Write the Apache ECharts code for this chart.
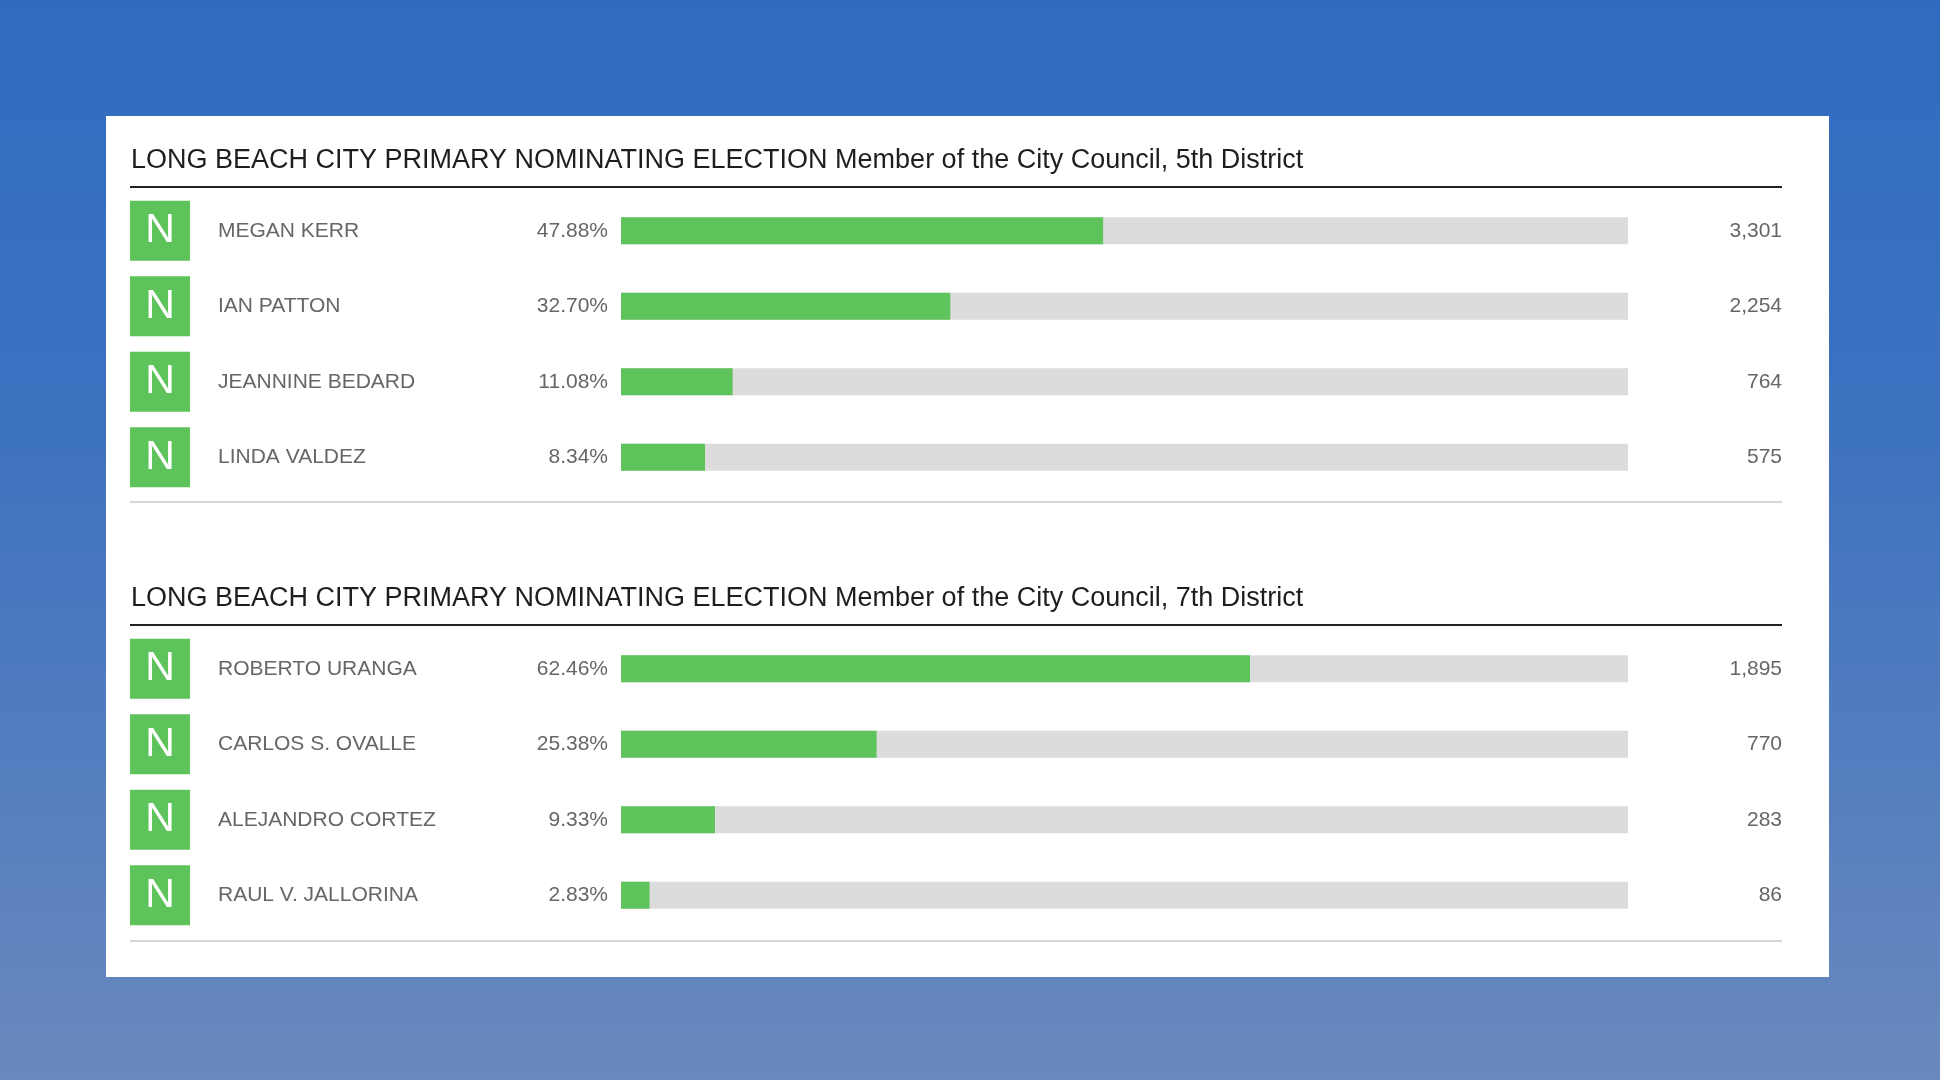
<!DOCTYPE html>
<html>
<head>
<meta charset="utf-8">
<style>
  html, body { margin: 0; padding: 0; width: 1940px; height: 1080px; overflow: hidden; }
  #chart { width: 1940px; height: 1080px; }
</style>
<script src="https://cdn.jsdelivr.net/npm/echarts@6/dist/echarts.min.js"></script>
</head>
<body>
<div id="chart"></div>
<script>
// ---- Data ----
const titles = [
  'LONG BEACH CITY PRIMARY NOMINATING ELECTION Member of the City Council, 5th District',
  'LONG BEACH CITY PRIMARY NOMINATING ELECTION Member of the City Council, 7th District'
];
const parties5 = ['N', 'N', 'N', 'N'];
const names5 = ['MEGAN KERR', 'IAN PATTON', 'JEANNINE BEDARD', 'LINDA VALDEZ'];
const pct5 = [47.88, 32.70, 11.08, 8.34];
const votes5 = [3301, 2254, 764, 575];

const parties7 = ['N', 'N', 'N', 'N'];
const names7 = ['ROBERTO URANGA', 'CARLOS S. OVALLE', 'ALEJANDRO CORTEZ', 'RAUL V. JALLORINA'];
const pct7 = [62.46, 25.38, 9.33, 2.83];
const votes7 = [1895, 770, 283, 86];

// ---- Styles ----
const FONT = '"Liberation Sans", Arial, Helvetica, sans-serif';
const GREEN = '#5dc35a';
const TRACK = '#dcdcdc';
const TEXT = '#666666';

const chart = echarts.init(document.getElementById('chart'));

function leftLabels(parties, names) {
  return names.map((n, i) => parties[i] + '|' + n);
}
function fmtVotes(v) {
  return v.map(x => x.toLocaleString('en-US'));
}

const grids = [
  { left: 621, width: 1007, top: 193, height: 302 },
  { left: 621, width: 1007, top: 631, height: 302 }
];

const sets = [
  { parties: parties5, names: names5, pct: pct5, votes: votes5 },
  { parties: parties7, names: names7, pct: pct7, votes: votes7 }
];

const xAxes = [], yAxes = [], series = [];
sets.forEach((s, gi) => {
  xAxes.push({
    type: 'value', gridIndex: gi, min: 0, max: 100,
    show: false
  });
  yAxes.push({
    type: 'category', gridIndex: gi, inverse: true,
    data: leftLabels(s.parties, s.names),
    axisLine: { show: false }, axisTick: { show: false }, splitLine: { show: false },
    axisLabel: {
      align: 'left', margin: 491,
      formatter: function (val) {
        const parts = val.split('|');
        return '{n|' + parts[0] + '}{nm|' + parts[1] + '}';
      },
      rich: {
        n: {
          width: 60, height: 60, lineHeight: 60, align: 'center',
          backgroundColor: GREEN, color: '#ffffff',
          fontSize: 41, fontFamily: FONT
        },
        nm: {
          padding: [0, 0, 0, 28], color: TEXT, fontSize: 21, fontFamily: FONT
        }
      }
    }
  });
  yAxes.push({
    type: 'category', gridIndex: gi, inverse: true, position: 'right',
    data: fmtVotes(s.votes),
    axisLine: { show: false }, axisTick: { show: false }, splitLine: { show: false },
    axisLabel: {
      align: 'right', margin: 154,
      color: TEXT, fontSize: 21, fontFamily: FONT
    }
  });
  series.push({
    type: 'bar',
    xAxisIndex: gi, yAxisIndex: gi * 2,
    data: s.pct,
    barWidth: 27,
    showBackground: true,
    backgroundStyle: { color: TRACK },
    itemStyle: { color: GREEN },
    label: {
      show: true, position: 'left', distance: 13,
      color: TEXT, fontSize: 21, fontFamily: FONT,
      formatter: p => p.value.toFixed(2) + '%'
    },
    silent: true,
    animation: false
  });
});

const option = {
  animation: false,
  backgroundColor: {
    type: 'linear', x: 0, y: 0, x2: 0, y2: 1,
    colorStops: [
      { offset: 0, color: '#316bbf' },
      { offset: 0.4, color: '#3d72c0' },
      { offset: 1, color: '#6a89bd' }
    ]
  },
  title: [
    {
      text: titles[0], left: 126, top: 142,
      textStyle: { color: '#1e1e1e', fontSize: 27, fontWeight: 'normal', fontFamily: FONT }
    },
    {
      text: titles[1], left: 126, top: 580,
      textStyle: { color: '#1e1e1e', fontSize: 27, fontWeight: 'normal', fontFamily: FONT }
    }
  ],
  graphic: [
    { type: 'rect', z: -10, shape: { x: 106, y: 116, width: 1723, height: 861 }, style: { fill: '#ffffff' } },
    { type: 'line', z: 1, shape: { x1: 130, y1: 187, x2: 1782, y2: 187 }, style: { stroke: '#222222', lineWidth: 2 } },
    { type: 'line', z: 1, shape: { x1: 130, y1: 502, x2: 1782, y2: 502 }, style: { stroke: '#d6d6d6', lineWidth: 2 } },
    { type: 'line', z: 1, shape: { x1: 130, y1: 625, x2: 1782, y2: 625 }, style: { stroke: '#222222', lineWidth: 2 } },
    { type: 'line', z: 1, shape: { x1: 130, y1: 941, x2: 1782, y2: 941 }, style: { stroke: '#d6d6d6', lineWidth: 2 } }
  ],
  grid: grids,
  xAxis: xAxes,
  yAxis: yAxes,
  series: series
};

chart.setOption(option);
</script>
</body>
</html>
